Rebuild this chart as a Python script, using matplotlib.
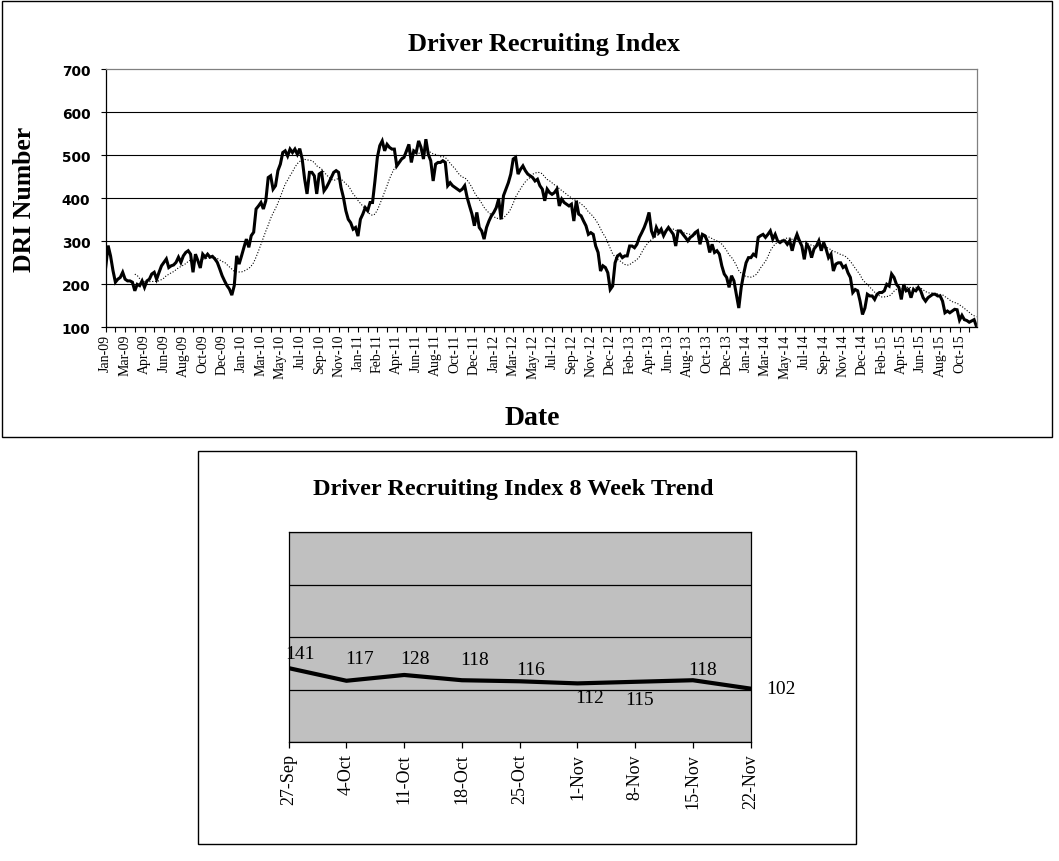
import matplotlib
matplotlib.use('Agg')
import matplotlib.pyplot as plt
import numpy as np
import pandas as pd
from matplotlib.patches import Rectangle

W, H = 1059, 862
serif = 'Liberation Serif'

# weekly DRI values, week of 4-Jan-2009 to week of 22-Nov-2015
dri = [
    240, 290, 266, 232, 205, 212, 216, 228, 212, 208,
    208, 205, 185, 200, 197, 208, 193, 208, 212, 224,
    228, 212, 228, 243, 251, 259, 239, 243, 245, 251,
    263, 251, 266, 274, 278, 270, 228, 270, 255, 238,
    270, 263, 270, 263,
    # 2009 end / 2010
    265, 259, 251, 236, 220, 208,
    197, 189, 175, 197, 266, 247, 266, 286, 305, 286,
    313, 321, 375, 382, 390, 375, 394, 448, 452, 421,
    429, 464, 479, 506, 510, 498, 514, 506, 514, 502,
    515, 491, 445, 410, 460, 460, 452, 410,
    456, 460,
    417, 425, 436, 448, 460, 464, 460, 425, 402, 371,
    351, 343, 328, 332, 312, 351, 363, 378, 371, 390,
    390, 440, 495, 522, 533, 510, 525, 518, 514, 514,
    475, 483, 491, 495, 510, 525, 483, 510, 506, 533,
    518, 491, 537,
    # 2011 second half / 2012
    502, 487, 440, 479, 483, 483, 487,
    483, 429, 436, 429, 425, 421, 417, 421, 429, 402,
    382, 363, 336, 367, 332, 324, 305, 332, 347, 359,
    367, 378, 398, 351, 406, 421, 436, 456, 491, 495,
    456, 467, 475, 464, 456, 452, 448, 440,
    444, 429,
    421, 394, 421, 413, 409, 413, 421, 382, 398, 390,
    386, 382, 386, 347, 394, 363, 359, 347, 336, 316,
    320, 316, 289, 274, 231, 243, 239, 227, 188, 196,
    250, 266, 270, 262, 266, 266, 289, 289, 285, 293,
    309,
    # 2013
    320, 332, 347, 367, 324, 309, 332, 320, 328,
    313, 324, 332, 324, 316, 289, 324, 324, 316, 309,
    301, 309, 313, 320, 324, 293, 316, 313, 301, 274,
    293, 274, 278, 270, 243, 224, 216, 193, 220, 208,
    177, 145, 193, 224, 250, 262,
    # 2014
    262, 270, 266, 309,
    313, 316, 309, 316, 324, 305, 316, 301, 297, 301,
    301, 293, 301, 278, 301, 316, 301, 289, 258, 293,
    285, 262, 282, 289, 301, 278, 297, 282, 262, 270,
    231, 247, 250, 250, 239, 243, 227, 216, 181, 188,
    185, 161,
    # 2015
    130, 145, 177, 173, 173, 165, 177, 181,
    181, 185, 200, 196, 224, 216, 200, 193, 165, 200,
    185, 188, 169, 188, 185, 193, 185, 169, 161, 169,
    173, 177, 177, 173, 173, 161, 134, 138, 134, 138,
    142, 141, 117, 128, 118, 116, 112, 115, 118, 102,
]
first_week = '2009-01-04'
ma_period = 13

trend_dates = ['27-Sep', '4-Oct', '11-Oct', '18-Oct', '25-Oct',
               '1-Nov', '8-Nov', '15-Nov', '22-Nov']
trend_values = [141, 117, 128, 118, 116, 112, 115, 118, 102]
# label offsets in pixels (dx, dy) from each point
trend_label_offsets = [(11, 15), (13, 22), (11, 16), (13, 21), (11, 12),
                       (12, -14), (4, -18), (10, 11), (30, 0)]

dates = pd.date_range(first_week, periods=len(dri), freq='7D')
weeks = np.arange(len(dri))
ma = pd.Series(dri).rolling(ma_period).mean()

fig = plt.figure(figsize=(W / 100, H / 100), dpi=100)
fig.patch.set_facecolor('white')


def px_axes(l, t, r, b):
    return fig.add_axes([l / W, 1 - b / H, (r - l) / W, (b - t) / H])


def px_box(l, t, r, b):
    fig.add_artist(Rectangle((l / W, 1 - b / H), (r - l) / W, (b - t) / H,
                             transform=fig.transFigure, fill=False,
                             ec='black', lw=1))


# ---- top chart ----
px_box(2, 2, 1052, 438)
ax = px_axes(105.7, 70, 976.5, 328.4)
ax.plot(weeks, dri, color='black', lw=2.2, solid_joinstyle='miter')
ax.plot(weeks, ma, color='black', lw=0.8, linestyle=(0, (1, 1.6)))
ax.set_xlim(0, len(dri) - 1)
ax.set_ylim(100, 700)
ax.set_yticks(range(100, 701, 100))
tick_pos = list(range(0, len(dri), 4))
ax.set_xticks(tick_pos)
ax.set_xticklabels([dates[i].strftime('%b-%y') if i % 8 == 0 else '' for i in tick_pos],
                   rotation=90, fontsize=10, family=serif)
ax.tick_params(axis='x', direction='out', length=3.6, width=0.8, pad=0.8)
ax.tick_params(axis='y', direction='out', length=3.5, width=0.8, pad=7.5)
for lab in ax.get_yticklabels():
    lab.set_fontsize(9.9)
    lab.set_fontweight('bold')
    lab.set_family('DejaVu Sans')
ax.yaxis.grid(True, color='black', lw=0.8)
ax.yaxis.get_gridlines()[-1].set_visible(False)
ax.set_axisbelow(True)
for s in ['top', 'right']:
    ax.spines[s].set_color('#808080')
for s in ['left', 'bottom']:
    ax.spines[s].set_color('black')
for s in ax.spines.values():
    s.set_linewidth(0.9)

fig.text(543.5 / W, 1 - 50.5 / H, 'Driver Recruiting Index', ha='center', va='baseline',
         fontsize=19, fontweight='bold', family=serif)
fig.text(24.5 / W, 1 - 199 / H, 'DRI Number', ha='center', va='center', rotation=90,
         fontsize=18.5, fontweight='bold', family=serif)
fig.text(532.5 / W, 1 - 419 / H, 'Date', ha='center', va='center',
         fontsize=20, fontweight='bold', family=serif)

# ---- bottom chart ----
px_box(198, 452, 856, 845)
ax2 = px_axes(288.7, 532.9, 750.7, 743.3)
ax2.set_facecolor('#C0C0C0')
x2 = np.arange(len(trend_values))
ax2.plot(x2, trend_values, color='black', lw=3, solid_capstyle='round')
for xi, v, (dx, dy) in zip(x2, trend_values, trend_label_offsets):
    ax2.annotate(str(v), (xi, v), xytext=(dx, dy), textcoords='offset pixels',
                 ha='center', va='center', fontsize=14, family=serif,
                 annotation_clip=False)
ax2.set_xlim(0, len(trend_values) - 1)
ax2.set_ylim(0, 400)
ax2.set_yticks(range(0, 401, 100))
ax2.set_yticklabels([])
ax2.tick_params(axis='y', length=0)
ax2.set_xticks(x2)
ax2.set_xticklabels(trend_dates, rotation=90, fontsize=13, family=serif)
ax2.tick_params(axis='x', direction='out', length=4, width=0.9, pad=4)
ax2.yaxis.grid(True, color='black', lw=0.9)
ax2.set_axisbelow(True)
for s in ax2.spines.values():
    s.set_color('black')
    s.set_linewidth(0.9)

fig.text(512.8 / W, 1 - 495 / H, 'Driver Recruiting Index 8 Week Trend', ha='center',
         va='baseline', fontsize=17.5, fontweight='bold', family=serif)

fig.savefig('out.png', dpi=100, facecolor='white')
